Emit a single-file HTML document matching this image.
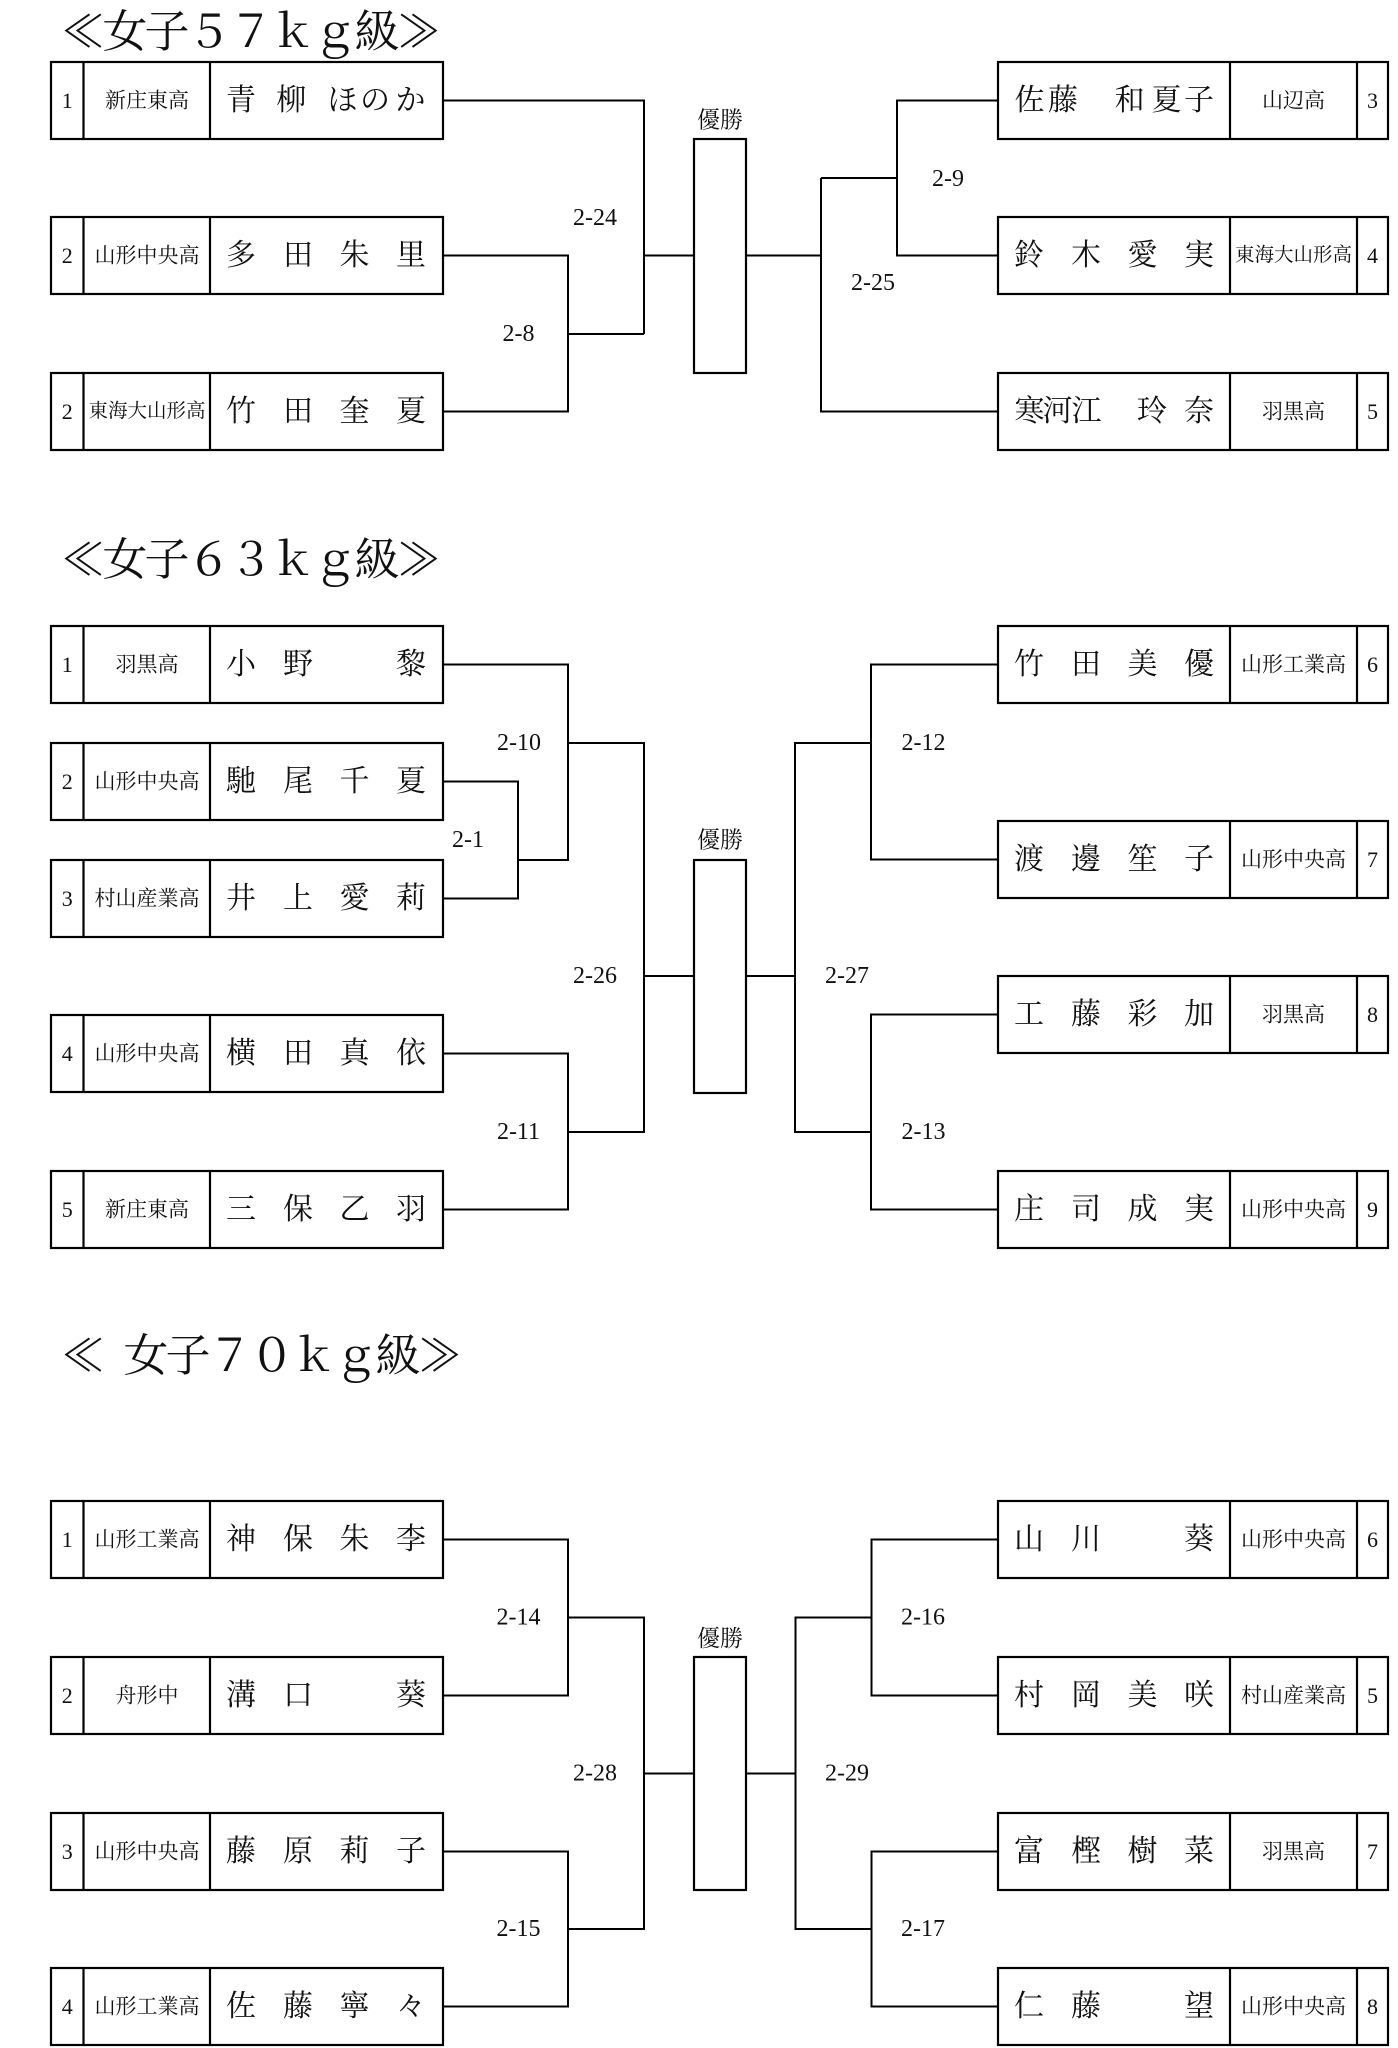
<!DOCTYPE html>
<html><head><meta charset="utf-8"><style>
html,body{margin:0;padding:0;background:#fff;}
svg{display:block;}
.t{font-family:"Liberation Serif","Noto Serif CJK SC","Noto Serif CJK JP",serif;fill:#111;dominant-baseline:central;}
.n{font-size:30px;text-anchor:middle;}
.s{font-size:21px;text-anchor:middle;}
.s6{font-size:19.5px;}
.num{font-size:22px;text-anchor:middle;}
.lb{font-size:24px;text-anchor:middle;}
.ti{font-size:45px;text-anchor:middle;}
.yu{font-size:23px;text-anchor:middle;}
</style></head><body>
<svg width="1398" height="2048" viewBox="0 0 1398 2048" xmlns="http://www.w3.org/2000/svg">
<rect x="0" y="0" width="1398" height="2048" fill="#fff"/>

<!-- ===== 57kg ===== -->
<text class="t ti" x="83 125 167 209 251 293 335 377 419" y="32">≪女子５７ｋｇ級≫</text>

<g fill="none" stroke="#000" stroke-width="2.2">
  <rect x="51" y="62" width="392" height="77"/><path d="M83.5 62V139M210 62V139"/>
  <rect x="51" y="217" width="392" height="77"/><path d="M83.5 217V294M210 217V294"/>
  <rect x="51" y="373" width="392" height="77"/><path d="M83.5 373V450M210 373V450"/>
  <rect x="998" y="62" width="390" height="77"/><path d="M1230 62V139M1357 62V139"/>
  <rect x="998" y="217" width="390" height="77"/><path d="M1230 217V294M1357 217V294"/>
  <rect x="998" y="373" width="390" height="77"/><path d="M1230 373V450M1357 373V450"/>
  <rect x="694" y="139" width="52" height="234"/>
</g>
<g fill="none" stroke="#000" stroke-width="2">
  <path d="M443 100.5H644V334"/>
  <path d="M443 255.5H568V411.5H443"/>
  <path d="M568 334H644"/>
  <path d="M644 255.5H694"/>
  <path d="M746 255.5H821"/>
  <path d="M821 178V411.5H998"/>
  <path d="M821 178H897"/>
  <path d="M998 100.5H897V255.5H998"/>
</g>
<text class="t num" x="67.3" y="100.5">1</text>
<text class="t s" x="147" y="100.5">新庄東高</text>
<text class="t n" x="241 291.3 342.5 375 410.5" y="100.5">青柳ほのか</text>
<text class="t num" x="67.3" y="255.5">2</text>
<text class="t s" x="147" y="255.5">山形中央高</text>
<text class="t n" x="241 298 354.5 411" y="255.5">多田朱里</text>
<text class="t num" x="67.3" y="411.5">2</text>
<text class="t s s6" x="147" y="411.5">東海大山形高</text>
<text class="t n" x="241 298 354.5 411" y="411.5">竹田奎夏</text>

<text class="t n" x="1029.5 1063 1129.6 1166.5 1199" y="100.5">佐藤和夏子</text>
<text class="t s" x="1293.5" y="100.5">山辺高</text>
<text class="t num" x="1372.5" y="100.5">3</text>
<text class="t n" x="1029 1086 1142.5 1199" y="255.5">鈴木愛実</text>
<text class="t s s6" x="1293.5" y="255.5">東海大山形高</text>
<text class="t num" x="1372.5" y="255.5">4</text>
<text class="t n" x="1029.5 1057.5 1086.5 1152 1199" y="411.5">寒河江玲奈</text>
<text class="t s" x="1293.5" y="411.5">羽黒高</text>
<text class="t num" x="1372.5" y="411.5">5</text>

<text class="t yu" x="720" y="120">優勝</text>
<text class="t lb" x="595" y="218">2-24</text>
<text class="t lb" x="518.5" y="334">2-8</text>
<text class="t lb" x="948" y="179">2-9</text>
<text class="t lb" x="873" y="283">2-25</text>

<!-- ===== 63kg ===== -->
<text class="t ti" x="83 125 167 209 251 293 335 377 419" y="560">≪女子６３ｋｇ級≫</text>

<g fill="none" stroke="#000" stroke-width="2.2">
  <rect x="51" y="626" width="392" height="77"/><path d="M83.5 626V703M210 626V703"/>
  <rect x="51" y="743" width="392" height="77"/><path d="M83.5 743V820M210 743V820"/>
  <rect x="51" y="860" width="392" height="77"/><path d="M83.5 860V937M210 860V937"/>
  <rect x="51" y="1015" width="392" height="77"/><path d="M83.5 1015V1092M210 1015V1092"/>
  <rect x="51" y="1171" width="392" height="77"/><path d="M83.5 1171V1248M210 1171V1248"/>
  <rect x="998" y="626" width="390" height="77"/><path d="M1230 626V703M1357 626V703"/>
  <rect x="998" y="821" width="390" height="77"/><path d="M1230 821V898M1357 821V898"/>
  <rect x="998" y="976" width="390" height="77"/><path d="M1230 976V1053M1357 976V1053"/>
  <rect x="998" y="1171" width="390" height="77"/><path d="M1230 1171V1248M1357 1171V1248"/>
  <rect x="694" y="860" width="52" height="233"/>
</g>
<g fill="none" stroke="#000" stroke-width="2">
  <path d="M443 664.5H568V860H518"/>
  <path d="M443 781.5H518V898.5H443"/>
  <path d="M568 743H644V1132H568"/>
  <path d="M443 1053.5H568V1209.5H443"/>
  <path d="M644 976H694"/>
  <path d="M746 976H795"/>
  <path d="M871 743H795V1132H871"/>
  <path d="M998 664.5H871V859.5H998"/>
  <path d="M998 1014.5H871V1209.5H998"/>
</g>
<text class="t num" x="67.3" y="664.5">1</text>
<text class="t s" x="147" y="664.5">羽黒高</text>
<text class="t n" x="241 298 411" y="664.5">小野黎</text>
<text class="t num" x="67.3" y="781.5">2</text>
<text class="t s" x="147" y="781.5">山形中央高</text>
<text class="t n" x="241 298 354.5 411" y="781.5">馳尾千夏</text>
<text class="t num" x="67.3" y="898.5">3</text>
<text class="t s" x="147" y="898.5">村山産業高</text>
<text class="t n" x="241 298 354.5 411" y="898.5">井上愛莉</text>
<text class="t num" x="67.3" y="1053.5">4</text>
<text class="t s" x="147" y="1053.5">山形中央高</text>
<text class="t n" x="241 298 354.5 411" y="1053.5">横田真依</text>
<text class="t num" x="67.3" y="1209.5">5</text>
<text class="t s" x="147" y="1209.5">新庄東高</text>
<text class="t n" x="241 298 354.5 411" y="1209.5">三保乙羽</text>

<text class="t n" x="1029 1086 1142.5 1199" y="664.5">竹田美優</text>
<text class="t s" x="1293.5" y="664.5">山形工業高</text>
<text class="t num" x="1372.5" y="664.5">6</text>
<text class="t n" x="1029 1086 1142.5 1199" y="859.5">渡邊笙子</text>
<text class="t s" x="1293.5" y="859.5">山形中央高</text>
<text class="t num" x="1372.5" y="859.5">7</text>
<text class="t n" x="1029 1086 1142.5 1199" y="1014.5">工藤彩加</text>
<text class="t s" x="1293.5" y="1014.5">羽黒高</text>
<text class="t num" x="1372.5" y="1014.5">8</text>
<text class="t n" x="1029 1086 1142.5 1199" y="1209.5">庄司成実</text>
<text class="t s" x="1293.5" y="1209.5">山形中央高</text>
<text class="t num" x="1372.5" y="1209.5">9</text>

<text class="t yu" x="720" y="840">優勝</text>
<text class="t lb" x="519" y="743">2-10</text>
<text class="t lb" x="468" y="840">2-1</text>
<text class="t lb" x="595" y="976">2-26</text>
<text class="t lb" x="518.5" y="1132">2-11</text>
<text class="t lb" x="923.5" y="743">2-12</text>
<text class="t lb" x="847" y="976">2-27</text>
<text class="t lb" x="923.5" y="1132">2-13</text>

<!-- ===== 70kg ===== -->
<text class="t ti" x="83 146 188 230 272 314 356 398 440" y="1356">≪女子７０ｋｇ級≫</text>

<g fill="none" stroke="#000" stroke-width="2.2">
  <rect x="51" y="1501" width="392" height="77"/><path d="M83.5 1501V1578M210 1501V1578"/>
  <rect x="51" y="1657" width="392" height="77"/><path d="M83.5 1657V1734M210 1657V1734"/>
  <rect x="51" y="1813" width="392" height="77"/><path d="M83.5 1813V1890M210 1813V1890"/>
  <rect x="51" y="1968" width="392" height="77"/><path d="M83.5 1968V2045M210 1968V2045"/>
  <rect x="998" y="1501" width="390" height="77"/><path d="M1230 1501V1578M1357 1501V1578"/>
  <rect x="998" y="1657" width="390" height="77"/><path d="M1230 1657V1734M1357 1657V1734"/>
  <rect x="998" y="1813" width="390" height="77"/><path d="M1230 1813V1890M1357 1813V1890"/>
  <rect x="998" y="1968" width="390" height="77"/><path d="M1230 1968V2045M1357 1968V2045"/>
  <rect x="694" y="1657" width="52" height="233"/>
</g>
<g fill="none" stroke="#000" stroke-width="2">
  <path d="M443 1539.5H568V1695.5H443"/>
  <path d="M568 1617.5H644V1929H568"/>
  <path d="M443 1851.5H568V2006.5H443"/>
  <path d="M644 1773.5H694"/>
  <path d="M746 1773.5H795.5"/>
  <path d="M871.5 1617.5H795.5V1929H871.5"/>
  <path d="M998 1539.5H871.5V1695.5H998"/>
  <path d="M998 1851.5H871.5V2006.5H998"/>
</g>
<text class="t num" x="67.3" y="1539.5">1</text>
<text class="t s" x="147" y="1539.5">山形工業高</text>
<text class="t n" x="241 298 354.5 411" y="1539.5">神保朱李</text>
<text class="t num" x="67.3" y="1695.5">2</text>
<text class="t s" x="147" y="1695.5">舟形中</text>
<text class="t n" x="241 298 411" y="1695.5">溝口葵</text>
<text class="t num" x="67.3" y="1851.5">3</text>
<text class="t s" x="147" y="1851.5">山形中央高</text>
<text class="t n" x="241 298 354.5 411" y="1851.5">藤原莉子</text>
<text class="t num" x="67.3" y="2006.5">4</text>
<text class="t s" x="147" y="2006.5">山形工業高</text>
<text class="t n" x="241 298 354.5 411" y="2006.5">佐藤寧々</text>

<text class="t n" x="1029 1086 1199" y="1539.5">山川葵</text>
<text class="t s" x="1293.5" y="1539.5">山形中央高</text>
<text class="t num" x="1372.5" y="1539.5">6</text>
<text class="t n" x="1029 1086 1142.5 1199" y="1695.5">村岡美咲</text>
<text class="t s" x="1293.5" y="1695.5">村山産業高</text>
<text class="t num" x="1372.5" y="1695.5">5</text>
<text class="t n" x="1029 1086 1142.5 1199" y="1851.5">富樫樹菜</text>
<text class="t s" x="1293.5" y="1851.5">羽黒高</text>
<text class="t num" x="1372.5" y="1851.5">7</text>
<text class="t n" x="1029 1086 1199" y="2006.5">仁藤望</text>
<text class="t s" x="1293.5" y="2006.5">山形中央高</text>
<text class="t num" x="1372.5" y="2006.5">8</text>

<text class="t yu" x="720" y="1638.5">優勝</text>
<text class="t lb" x="518.5" y="1617.5">2-14</text>
<text class="t lb" x="595" y="1773.5">2-28</text>
<text class="t lb" x="518.5" y="1929">2-15</text>
<text class="t lb" x="923" y="1617.5">2-16</text>
<text class="t lb" x="847" y="1773.5">2-29</text>
<text class="t lb" x="923" y="1929">2-17</text>
</svg>
</body></html>
